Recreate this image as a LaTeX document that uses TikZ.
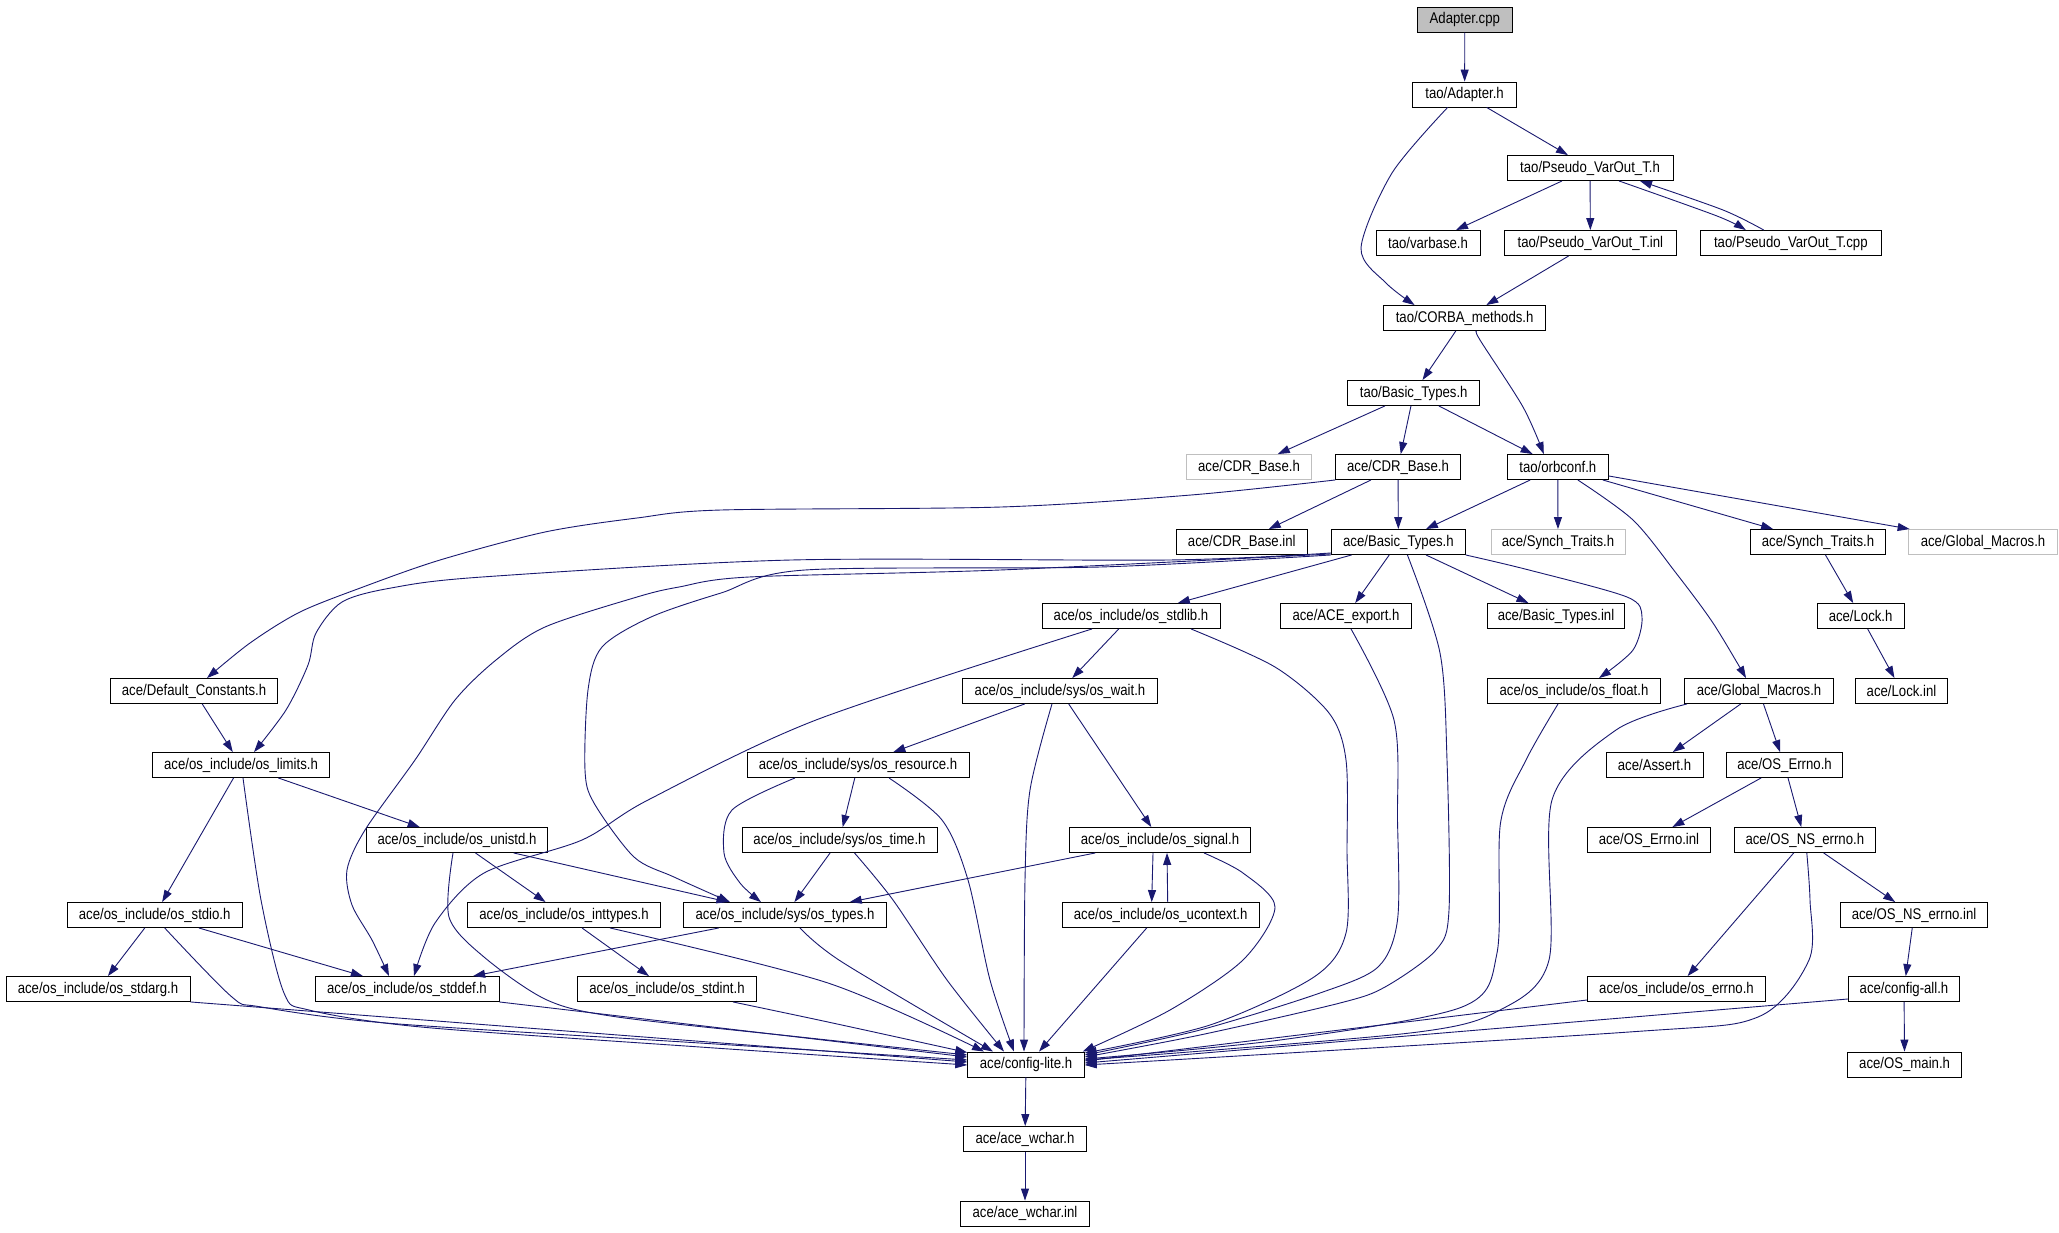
\documentclass[tikz,border=0pt]{standalone}
\usepackage{fontspec}
\newfontfamily\dfont{Liberation Sans}[FakeStretch=0.85]
\usetikzlibrary{arrows.meta}
\definecolor{edgec}{HTML}{191970}
\definecolor{gbord}{HTML}{BFBFBF}
\tikzset{
  box/.style={draw=black, line width=0.9pt, minimum height=25pt, inner sep=0pt,
    font=\dfont\fontsize{15.5}{18}\selectfont, text=black},
  gbox/.style={box, draw=gbord},
  e/.style={draw=edgec, line width=0.9pt, -{Triangle[length=12pt,width=8pt]}},
}
\begin{document}
\begin{tikzpicture}[x=1pt,y=-1pt]
\fill[white] (0,0) rectangle (2059,1232);
\useasboundingbox (0,0) rectangle (2059,1232);
% nodes
\node[box, fill=gbord, minimum width=95pt] (acpp) at (1464.8,19.7) {Adapter.cpp};
\node[box, minimum width=104pt] (adh) at (1464.6,94.5) {tao/Adapter.h};
\node[box, minimum width=166pt] (pvh) at (1590,168) {tao/Pseudo\_VarOut\_T.h};
\node[box, minimum width=104pt] (vb) at (1428,243) {tao/varbase.h};
\node[box, minimum width=171.6pt] (pvi) at (1590.4,243) {tao/Pseudo\_VarOut\_T.inl};
\node[box, minimum width=181pt] (pvc) at (1790.8,243) {tao/Pseudo\_VarOut\_T.cpp};
\node[box, minimum width=161.6pt] (cmh) at (1464.6,318) {tao/CORBA\_methods.h};
\node[box, minimum width=132.4pt] (tbt) at (1413.7,393) {tao/Basic\_Types.h};
\node[gbox, minimum width=125pt] (cdrg) at (1249,467) {ace/CDR\_Base.h};
\node[box, minimum width=124.4pt] (cdr) at (1398,467) {ace/CDR\_Base.h};
\node[box, minimum width=100.5pt] (obc) at (1557.8,467) {tao/orbconf.h};
\node[box, minimum width=130.4pt] (cdri) at (1241.8,542) {ace/CDR\_Base.inl};
\node[box, minimum width=133.6pt] (abt) at (1398.4,542) {ace/Basic\_Types.h};
\node[gbox, minimum width=134pt] (stg) at (1558,542) {ace/Synch\_Traits.h};
\node[box, minimum width=134.5pt] (st) at (1818,542) {ace/Synch\_Traits.h};
\node[gbox, minimum width=148.2pt] (gmg) at (1983,542) {ace/Global\_Macros.h};
\node[box, minimum width=178pt] (osl) at (1131,616) {ace/os\_include/os\_stdlib.h};
\node[box, minimum width=130.5pt] (aex) at (1346,616) {ace/ACE\_export.h};
\node[box, minimum width=137.7pt] (bti) at (1556,616) {ace/Basic\_Types.inl};
\node[box, minimum width=87pt] (lck) at (1860.6,616) {ace/Lock.h};
\node[box, minimum width=167.7pt] (dfc) at (194,691) {ace/Default\_Constants.h};
\node[box, minimum width=194.4pt] (owt) at (1060,691) {ace/os\_include/sys/os\_wait.h};
\node[box, minimum width=173.4pt] (oft) at (1574,691) {ace/os\_include/os\_float.h};
\node[box, minimum width=148.9pt] (gm) at (1759,691) {ace/Global\_Macros.h};
\node[box, minimum width=92pt] (lci) at (1901.5,691) {ace/Lock.inl};
\node[box, minimum width=177.8pt] (olm) at (241,765) {ace/os\_include/os\_limits.h};
\node[box, minimum width=222pt] (ors) at (858,765) {ace/os\_include/sys/os\_resource.h};
\node[box, minimum width=97pt] (ast) at (1654.5,765) {ace/Assert.h};
\node[box, minimum width=116.5pt] (oer) at (1784.5,765) {ace/OS\_Errno.h};
\node[box, minimum width=181.3pt] (oun) at (457,840) {ace/os\_include/os\_unistd.h};
\node[box, minimum width=195pt] (otm) at (839.5,840) {ace/os\_include/sys/os\_time.h};
\node[box, minimum width=181.4pt] (osg) at (1160,840) {ace/os\_include/os\_signal.h};
\node[box, minimum width=123.7pt] (oei) at (1649,840) {ace/OS\_Errno.inl};
\node[box, minimum width=141.6pt] (nse) at (1804.8,840) {ace/OS\_NS\_errno.h};
\node[box, minimum width=174.6pt] (osi) at (154.7,915) {ace/os\_include/os\_stdio.h};
\node[box, minimum width=193pt] (oit) at (564,915) {ace/os\_include/os\_inttypes.h};
\node[box, minimum width=202.8pt] (oty) at (785,915) {ace/os\_include/sys/os\_types.h};
\node[box, minimum width=197pt] (ouc) at (1160.7,915) {ace/os\_include/os\_ucontext.h};
\node[box, minimum width=147.4pt] (nsi) at (1914,915) {ace/OS\_NS\_errno.inl};
\node[box, minimum width=184pt] (osa) at (98,989) {ace/os\_include/os\_stdarg.h};
\node[box, minimum width=184pt] (osd) at (407,989) {ace/os\_include/os\_stddef.h};
\node[box, minimum width=178.3pt] (osn) at (667,989) {ace/os\_include/os\_stdint.h};
\node[box, minimum width=178.3pt] (oen) at (1676.5,989) {ace/os\_include/os\_errno.h};
\node[box, minimum width=111.4pt] (cal) at (1904,989) {ace/config-all.h};
\node[box, minimum width=116.5pt] (cfl) at (1026,1064.5) {ace/config-lite.h};
\node[box, minimum width=114.5pt] (omn) at (1904.6,1064.5) {ace/OS\_main.h};
\node[box, minimum width=122.8pt] (wch) at (1025,1139) {ace/ace\_wchar.h};
\node[box, minimum width=128.3pt] (wci) at (1025,1213.5) {ace/ace\_wchar.inl};
% edges
\draw[e] (acpp) -- (adh);
\draw[e] (adh) -- (pvh);
\draw[e] plot[smooth] coordinates {([xshift=-17pt]adh.south) (1392,173) (1361,248) (1386,283) ([xshift=-50pt]cmh.north)};
\draw[e] (pvh) -- (vb);
\draw[e] (pvh) -- (pvi);
\draw[e] plot[smooth] coordinates {([xshift=29pt]pvh.south) (1717,216) ([xshift=-45pt]pvc.north)};
\draw[e] plot[smooth] coordinates {([xshift=-27pt]pvc.north) (1723,210) ([xshift=50pt]pvh.south)};
\draw[e] (pvi) -- (cmh);
\draw[e] (cmh) -- (tbt);
\draw[e] plot[smooth] coordinates {([xshift=12pt]cmh.south) (1480,340) (1523,407) ([xshift=-14pt]obc.north)};
\draw[e] (tbt) -- (cdrg);
\draw[e] (tbt) -- (cdr);
\draw[e] (tbt) -- (obc);
\draw[e] plot[smooth] coordinates {(cdr.south west) (1191,495) (1001,507) (721,510) (637,518) (545,532) (440,560) (363,587) (300,612) (250,643) ([xshift=13pt]dfc.north)};
\draw[e] (cdr) -- (cdri);
\draw[e] (cdr) -- (abt);
\draw[e] (obc) -- (abt);
\draw[e] (obc) -- (stg);
\draw[e] (obc) -- (st);
\draw[e] (obc) -- (gmg);
\draw[e] plot[smooth] coordinates {([xshift=20pt]obc.south) (1633,520) (1676,573) (1713,623) ([xshift=-13pt]gm.north)};
\draw[e] (abt) -- (osl);
\draw[e] (abt) -- (aex);
\draw[e] plot[smooth] coordinates {([xshift=9pt]abt.south) (1440,653) (1447,760) (1449,910) (1436,950) (1385,987) (1340,1003) (1200,1035) ([yshift=7.5pt]cfl.east)};
\draw[e] (abt) -- (bti);
\draw[e] plot[smooth] coordinates {(abt.south east) (1529,570) (1627,597) (1642,617) (1633,650) ([xshift=25pt]oft.north)};
\draw[e] plot[smooth] coordinates {([yshift=2pt]abt.south west) (1168,560) (791,560) (482,577) (391,588) (342,602) (316,633) (308,665) (286,710) ([xshift=13pt]olm.north)};
\draw[e] plot[smooth] coordinates {([yshift=1pt]abt.south west) (1000,570) (749,577) (679,587) (637,597) (545,627) (496,660) (455,700) (415,760) (365,830) (347,870) (352,905) (372,940) ([xshift=-18pt]osd.north)};
\draw[e] plot[smooth] coordinates {(abt.south west) (1100,567) (805,570) (721,593) (651,617) (602,647) (588,690) (585,770) (594,803) (634,857) (674,877) ([xshift=-55pt]oty.north)};
\draw[e] (osl) -- (owt);
\draw[e] plot[smooth] coordinates {([xshift=60pt]osl.south) (1275,667) (1329,713) (1346,760) (1347,850) (1346,933) (1314,977) (1210,1025) ([yshift=11.5pt]cfl.east)};
\draw[e] plot[smooth] coordinates {([xshift=-39pt]osl.south) (816,720) (648,800) (582,840) (484,873) (435,923) ([xshift=7pt]osd.north)};
\draw[e] (owt) -- (ors);
\draw[e] (owt) -- (osg);
\draw[e] plot[smooth] coordinates {([xshift=-8pt]owt.south) (1030,790) (1025,880) ([xshift=-2pt]cfl.north)};
\draw[e] (ors) -- (otm);
\draw[e] plot[smooth] coordinates {([xshift=-63pt]ors.south) (732,810) (724,853) (740,883) ([xshift=-24pt]oty.north)};
\draw[e] plot[smooth] coordinates {([xshift=31pt]ors.south) (942,820) (968,880) (990,980) ([xshift=-12pt]cfl.north)};
\draw[e] (otm) -- (oty);
\draw[e] plot[smooth] coordinates {([xshift=15pt]otm.south) (893,900) (947,980) ([xshift=-22pt]cfl.north)};
\draw[e] (osg) -- (oty);
\draw[e] ([xshift=-7pt]osg.south) -- ([xshift=-9pt]ouc.north);
\draw[e] ([xshift=7pt]ouc.north) -- ([xshift=7pt]osg.south);
\draw[e] plot[smooth] coordinates {([xshift=44pt]osg.south) (1243,873) (1275,907) (1243,960) (1170,1010) ([xshift=-2pt]cfl.north east)};
\draw[e] ([xshift=-14pt]ouc.south) -- ([xshift=13pt]cfl.north);
\draw[e] (olm) -- (oun);
\draw[e] (olm) -- (osi);
\draw[e] plot[smooth] coordinates {([xshift=2pt]olm.south) (261,900) (284,993) (309,1010) (421,1027) (700,1047) ([yshift=-0.5pt]cfl.west)};
\draw[e] (oun) -- (oit);
\draw[e] (oun) -- (oty);
\draw[e] plot[smooth] coordinates {([xshift=-4pt]oun.south) (449,917) (484,957) (547,1000) (617.5,1017) (800,1037) ([yshift=9.5pt]cfl.west)};
\draw[e] (osi) -- (osa);
\draw[e] (osi) -- (osd);
\draw[e] plot[smooth] coordinates {([xshift=10pt]osi.south) (231.6,996.7) (259.6,1006.7) (386,1023) (700,1043) ([yshift=4.5pt]cfl.west)};
\draw[e] (oit) -- (osn);
\draw[e] plot[smooth] coordinates {([xshift=46pt]oit.south) (828,983) ([xshift=-42pt]cfl.north)};
\draw[e] (oty) -- (osd);
\draw[e] plot[smooth] coordinates {([xshift=15pt]oty.south) (842,962) ([xshift=-33pt]cfl.north)};
\draw[e] (osa.south east) -- ([yshift=2.5pt]cfl.west);
\draw[e] (osd.south east) -- ([yshift=7.5pt]cfl.west);
\draw[e] plot[smooth] coordinates {([xshift=66pt]osn.south) (828,1022) ([yshift=12pt]cfl.west)};
\draw[e] (dfc) -- (olm);
\draw[e] plot[smooth] coordinates {([xshift=5pt]aex.south) (1394,720) (1397.5,820) (1397.5,920) (1378,967) (1320,993) (1200,1030) ([yshift=9.5pt]cfl.east)};
\draw[e] plot[smooth] coordinates {([xshift=-16pt]oft.south) (1526,760) (1500.5,823) (1497,953) (1462,1007) (1280,1040) ([yshift=5.5pt]cfl.east)};
\draw[e] plot[smooth] coordinates {([xshift=-72pt]gm.south) (1616,730) (1552,800) (1549,960) (1500,1010) (1410,1033) ([yshift=4.5pt]cfl.east)};
\draw[e] (gm) -- (ast);
\draw[e] (gm) -- (oer);
\draw[e] (oer) -- (oei);
\draw[e] (oer) -- (nse);
\draw[e] (nse) -- (oen);
\draw[e] (nse) -- (nsi);
\draw[e] plot[smooth] coordinates {([xshift=2pt]nse.south) (1810,900) (1809,960) (1758,1017) (1629,1032) ([yshift=-0.5pt]cfl.east)};
\draw[e] (nsi) -- (cal);
\draw[e] ([yshift=-10pt]cal.west) -- ([yshift=1.5pt]cfl.east);
\draw[e] (cal) -- (omn);
\draw[e] ([yshift=-11pt]oen.west) -- ([yshift=3.5pt]cfl.east);
\draw[e] (st) -- (lck);
\draw[e] (lck) -- (lci);
\draw[e] (cfl) -- (wch);
\draw[e] (wch) -- (wci);
\end{tikzpicture}
\end{document}
